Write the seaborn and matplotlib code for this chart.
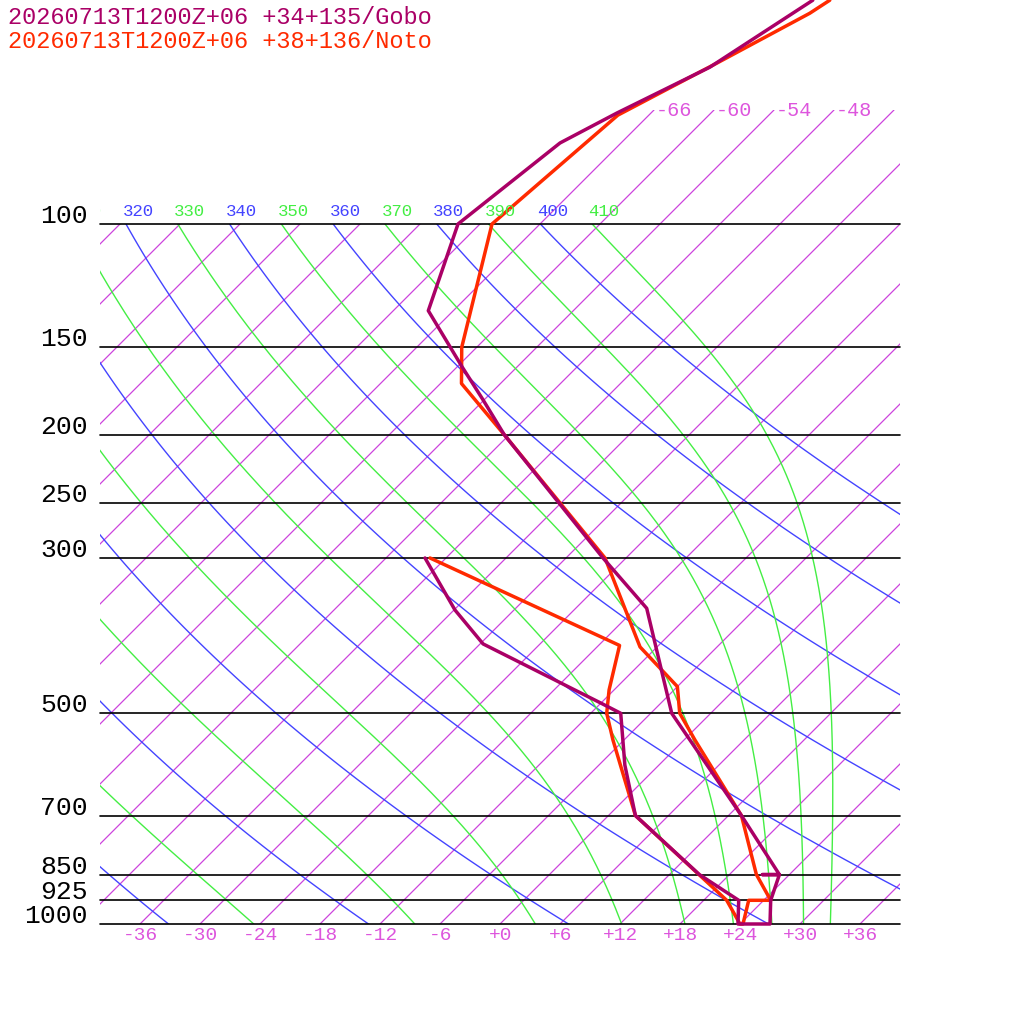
import numpy as np
import pandas as pd
import matplotlib
matplotlib.use("Agg")
import matplotlib.pyplot as plt
import seaborn as sns
from matplotlib.patches import Rectangle
from matplotlib.transforms import Bbox

# ---------------- data ----------------
gobo_p = [300, 356, 398, 483, 500, 593, 700, 850, 925, 1000,
          1000, 925, 850, 850, 850, 700, 546, 500, 354, 300, 200, 178, 160, 133, 100, 76.6, 69.4, 59.7, 47.9]
gobo_t = [-44.1, -35.9, -29.7, -12.1, -9.0, -3.4, 2.7, 15.0, 21.5, 23.8,
          27.0, 24.7, 23.0, 21.3, 23.0, 13.3, 0.6, -3.9, -16.9, -26.3, -48.5, -54.2, -59.5, -68.5, -74.2, -72.1, -69.4, -64.7, -61.1]
noto_p = [300, 400, 463, 500, 546, 700, 925, 1000,
          1000, 925, 925, 850, 700, 546, 500, 458, 402, 300, 200, 169, 150, 100, 69.9, 58.9, 50, 47.9]
noto_t = [-43.6, -15.9, -12.5, -10.4, -7.1, 2.7, 20.3, 24.0,
          24.3, 22.5, 24.7, 20.7, 13.3, 1.1, -3.1, -6.0, -13.7, -26.1, -48.5, -57.9, -61.5, -70.8, -69.1, -64.4, -60.1, -59.4]
gobo_label = "20260713T1200Z+06 +34+135/Gobo"
noto_label = "20260713T1200Z+06 +38+136/Noto"
pressure_levels = [100, 150, 200, 250, 300, 500, 700, 850, 925, 1000]
temp_ticks = list(range(-36, 37, 6))
isotherm_labels = [-66, -60, -54, -48]
dry_thetas = list(range(200, 420, 20))
moist_thetas = list(range(210, 420, 20))

GOBO_C = "#aa0066"
NOTO_C = "#ff2a00"
ISO_C = "#cc44dd"
DRY_C = "#4444ff"
MOIST_C = "#44ee44"
TXT_M = "#dd55dd"

SKEW = 70.0  # degrees per decade of pressure


def skx(t, p):
    return np.asarray(t) + SKEW * np.log10(1000.0 / np.asarray(p))


def px_x(x):
    return (x - 500.0) / 10.0


def px_p(y):
    return 1000.0 * 10 ** (-(924.0 - y) / 700.0)


sns.set_theme(style="white")
plt.rcParams['font.family'] = ['Liberation Mono', 'DejaVu Sans Mono']

fig = plt.figure(figsize=(10.24, 10.24), dpi=100)
ax = fig.add_axes([0, 0, 1, 1])
ax.set_yscale('log')
ax.set_xlim(px_x(0), px_x(1024))
ax.set_ylim(px_p(1024), px_p(0))
ax.axis('off')

X0, X1 = px_x(100), px_x(900)
clip_main = Rectangle((X0, 100), X1 - X0, 900, transform=ax.transData, fill=False, visible=False)
ax.add_patch(clip_main)
ptop_iso = px_p(110)
clip_top = Rectangle((X0, ptop_iso), X1 - X0, 1000 - ptop_iso, transform=ax.transData, fill=False, visible=False)
ax.add_patch(clip_top)
text_clip = Bbox([[100, 0], [1024, 1024]])

# isotherms
pp = np.array([ptop_iso, 1000.0])
for T in range(-150, 43, 6):
    ln, = ax.plot(skx([T, T], pp), pp, color=ISO_C, lw=0.9)
    ln.set_clip_path(clip_top if T >= -66 else clip_main)

# dry adiabats
pd_ = np.geomspace(100, 1000, 100)
for th in dry_thetas:
    T = th * (pd_ / 1000.0) ** 0.2857 - 273.15
    ln, = ax.plot(skx(T, pd_), pd_, color=DRY_C, lw=1.0)
    ln.set_clip_path(clip_main)
    xl = skx(th * 0.1 ** 0.2857 - 273.15, 100)
    if X0 - 5 <= xl <= X1:
        tx = ax.text(xl + 1.2, px_p(212), str(th), color=DRY_C, fontsize=12.5, ha='center', va='center')
        tx.set_clip_box(text_clip)
        tx.set_clip_on(True)


# moist adiabats
def moist(theta):
    Rd, cp, Lv, eps = 287.04, 1005.7, 2.501e6, 0.622
    ps = np.linspace(100, 1000, 400)
    T = theta * 0.1 ** 0.2857
    out = [T]

    def f(p, T):
        Tc = T - 273.15
        es = 6.112 * np.exp(17.67 * Tc / (Tc + 243.5))
        rs = eps * es / max(p - es, 1e-3)
        return (Rd * T + Lv * rs) / (p * (cp + Lv * Lv * rs * eps / (Rd * T * T)))

    for i in range(1, len(ps)):
        dp = ps[i] - ps[i - 1]
        k1 = f(ps[i - 1], T)
        k2 = f(ps[i - 1] + dp / 2, T + k1 * dp / 2)
        k3 = f(ps[i - 1] + dp / 2, T + k2 * dp / 2)
        k4 = f(ps[i], T + k3 * dp)
        T = T + dp * (k1 + 2 * k2 + 2 * k3 + k4) / 6
        out.append(T)
    return ps, np.array(out) - 273.15


for th in moist_thetas:
    ps, T = moist(th)
    ln, = ax.plot(skx(T, ps), ps, color=MOIST_C, lw=1.0)
    ln.set_clip_path(clip_main)
    xl = skx(th * 0.1 ** 0.2857 - 273.15, 100)
    if X0 - 5 <= xl <= X1:
        tx = ax.text(xl + 1.2, px_p(212), str(th), color=MOIST_C, fontsize=12.5, ha='center', va='center')
        tx.set_clip_box(text_clip)
        tx.set_clip_on(True)

# pressure lines
for p in pressure_levels:
    ax.plot([X0, X1], [p, p], color='black', lw=1.2)
    ax.text(px_x(88), p / 10 ** (8 / 700.0), str(p), color='black', fontsize=19, ha='right', va='center')

# temperature tick labels
for t in temp_ticks:
    s = ("+%d" % t) if t >= 0 else ("%d" % t)
    ax.text(t + 0.1, px_p(936), s, color=TXT_M, fontsize=14, ha='center', va='center')
for t in isotherm_labels:
    xl = skx(t, ptop_iso)
    ax.text(xl + 0.2, px_p(110), str(t), color=TXT_M, fontsize=14.5, ha='left', va='center')

# profiles
df = pd.concat([
    pd.DataFrame({'p': gobo_p, 'T': gobo_t, 'src': gobo_label}),
    pd.DataFrame({'p': noto_p, 'T': noto_t, 'src': noto_label}),
])
df['X'] = skx(df['T'].values, df['p'].values)
sns.lineplot(data=df, x='X', y='p', hue='src', sort=False, estimator=None,
             palette={gobo_label: GOBO_C, noto_label: NOTO_C}, lw=2.5, legend=False, ax=ax,
             hue_order=[noto_label, gobo_label])
ax.set_xlim(px_x(0), px_x(1024))
ax.set_ylim(px_p(1024), px_p(0))
ax.axis('off')

ax.text(px_x(8), px_p(17), gobo_label, color=GOBO_C, fontsize=17, ha='left', va='center')
ax.text(px_x(8), px_p(41), noto_label, color=NOTO_C, fontsize=17, ha='left', va='center')

fig.savefig("out.png", dpi=100, facecolor='white')
